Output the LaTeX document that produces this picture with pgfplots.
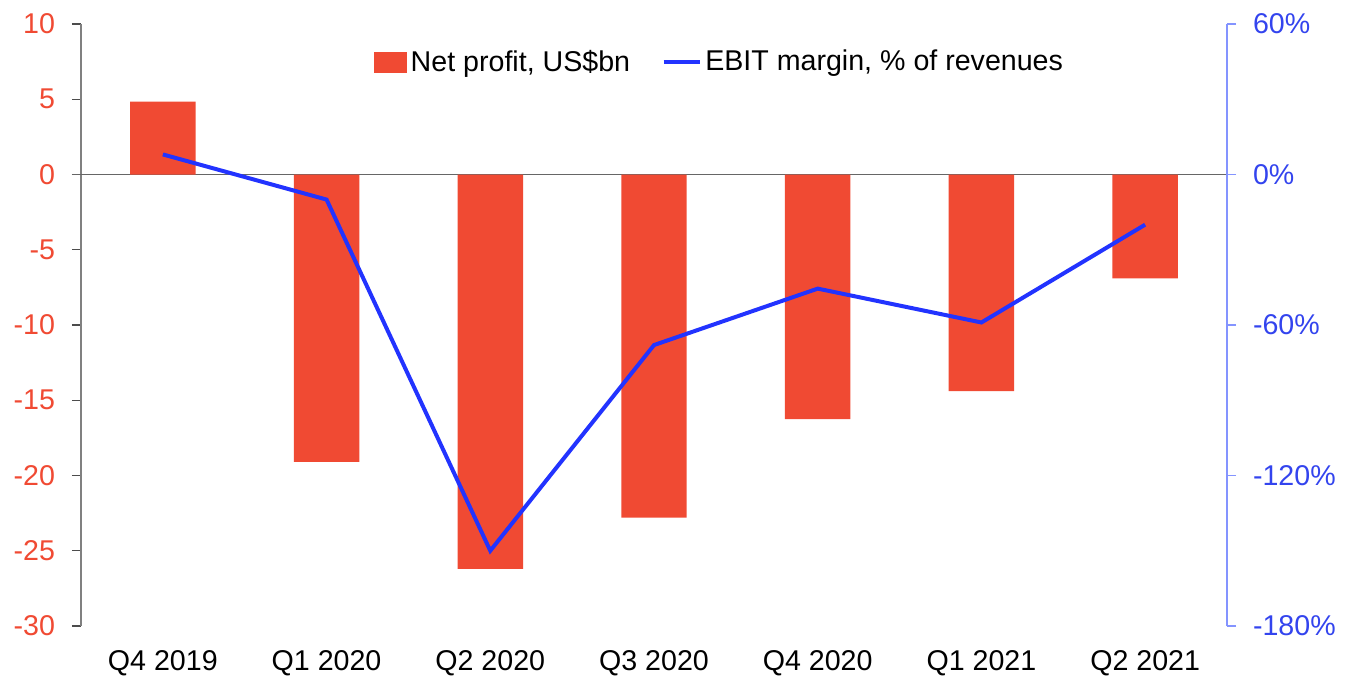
\documentclass[border=0pt]{standalone}
\usepackage{pgfplots}
\pgfplotsset{compat=1.18}
\usepackage{fontspec}
\setmainfont{Liberation Sans}
\definecolor{barred}{HTML}{F04A33}
\definecolor{lineblue}{HTML}{2233FF}
\definecolor{rlabel}{HTML}{3344EE}
\definecolor{raxis}{HTML}{8494FF}
\begin{document}
\begin{tikzpicture}
\pgfplotsset{
  every axis/.append style={
    width=573pt, height=301pt, scale only axis,
    xmin=-0.5, xmax=6.5,
    /pgf/number format/assume math mode=true,
    tick label style={font=\fontsize{14.3}{17}\selectfont},
    major tick length=4.5pt,
    tick align=outside,
  }
}
\begin{axis}[
  axis x line*=bottom,
  x axis line style={draw=none},
  xtick style={draw=none},
  xticklabel style={text=black, yshift=-4pt},
  axis y line*=left,
  y axis line style={draw=gray, line width=0.6pt, -},
  ytick style={draw=black!70, line width=0.6pt},
  ymin=-30, ymax=10,
  ytick={-30,-25,-20,-15,-10,-5,0,5,10},
  yticklabel style={text=barred, xshift=-5pt},
  xtick={0,1,2,3,4,5,6},
  xticklabels={Q4 2019,Q1 2020,Q2 2020,Q3 2020,Q4 2020,Q1 2021,Q2 2021},
  ybar, bar width=0.4, bar shift=0pt,
  clip=false,
]
\draw[black!60, line width=0.6pt] ([xshift=-4.5pt]axis cs:-0.5,0) -- ([xshift=4.5pt]axis cs:6.5,0);
\addplot[fill=barred, draw=none] coordinates {
 (0,4.85) (1,-19.1) (2,-26.2) (3,-22.8) (4,-16.25) (5,-14.4) (6,-6.9)};
\end{axis}
\begin{axis}[
  axis x line=none,
  axis y line*=right,
  y axis line style={draw=raxis, line width=0.6pt, -},
  ytick style={draw=raxis, line width=0.6pt},
  ymin=-180, ymax=60,
  ytick={-180,-120,-60,0,60},
  yticklabel={\pgfmathprintnumber{\tick}\%},
  yticklabel style={text=rlabel, xshift=5pt},
  legend style={draw=none, fill=none, at={(0.558,0.937)}, anchor=center,
    font=\fontsize{14.3}{17}\selectfont, legend columns=2,
    /tikz/every even column/.append style={column sep=14pt}},
  legend cell align=left,
]
\addlegendimage{legend image code/.code={\fill[barred] (0pt,-5pt) rectangle (16pt,5pt);}}
\addlegendentry{Net profit, US\$bn}
\addplot[lineblue, line width=2pt, mark=none, legend image code/.code={\draw[lineblue, line width=1.6pt] (0pt,0pt) -- (18pt,0pt);}] coordinates {
 (0,8) (1,-10) (2,-150) (3,-68) (4,-45.5) (5,-59) (6,-20)};
\addlegendentry{EBIT margin, \% of revenues}
\end{axis}
\pgfresetboundingbox
\path[use as bounding box] (-40.5pt,-24.5pt) rectangle (635.5pt,313pt);
\end{tikzpicture}
\end{document}
